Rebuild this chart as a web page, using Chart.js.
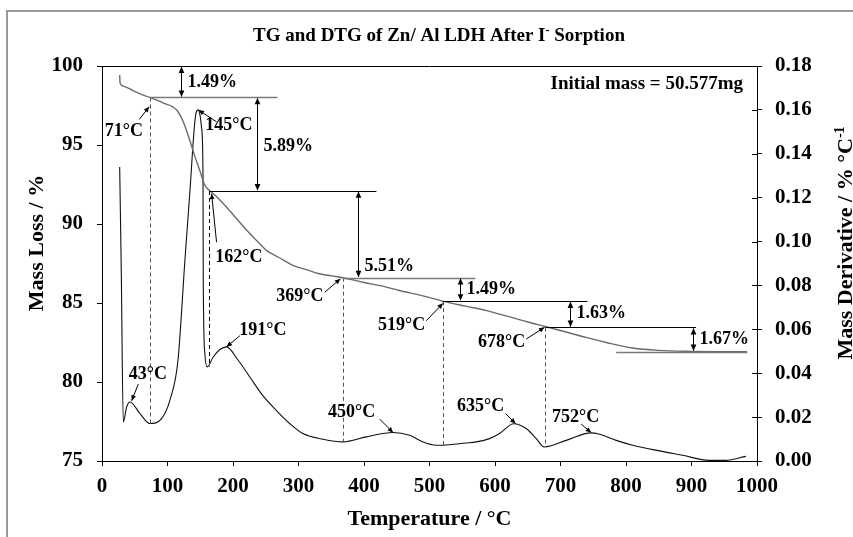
<!DOCTYPE html>
<html>
<head>
<meta charset="utf-8">
<title>TG and DTG of Zn/ Al LDH After I- Sorption</title>
<script src="https://cdn.jsdelivr.net/npm/chart.js@4.4.1/dist/chart.umd.min.js"></script>
<style>
  html, body { margin: 0; padding: 0; background: #fff; }
</style>
</head>
<body>
<canvas id="chart1" width="853" height="537"></canvas>
<script>
// TG curve: temperature (°C) and mass (%)
const tgTemp = [27, 27.5, 32.5, 48, 63, 73, 93, 114, 124, 134, 142, 150, 157, 165, 175, 190, 205, 221, 236, 251, 270, 292, 312, 332, 350, 368, 400, 430, 454, 490, 520, 555, 587, 620, 650, 678, 710, 739, 770, 810, 850, 901, 950, 985];
const tgMass = [99.43, 98.95, 98.73, 98.43, 98.16, 98.01, 97.67, 97.21, 96.47, 95.3, 94.25, 93.3, 92.45, 92.09, 91.72, 91.07, 90.36, 89.6, 88.96, 88.33, 87.88, 87.37, 87.11, 86.85, 86.72, 86.6, 86.3, 86.05, 85.79, 85.45, 85.12, 84.8, 84.52, 84.15, 83.8, 83.5, 83.15, 82.82, 82.5, 82.15, 82.0, 81.94, 81.92, 81.91];

// DTG curve: temperature (°C) and mass derivative (% °C-1)
const dtgTemp = [27, 29.5, 32.5, 37.6, 42.7, 58, 73, 91, 103.7, 116, 126.6, 134, 143.4, 146.9, 150, 152, 154.2, 154.6, 157, 160.6, 169.8, 180, 190, 207.9, 225.7, 245, 266, 286.5, 306.7, 337.5, 368, 403.7, 444, 469.7, 490, 510, 520, 556, 571, 591.7, 607, 628.5, 647.6, 663, 675, 708.7, 746.8, 759.5, 785, 810, 851, 886.5, 927, 952, 983];
const dtgRate = [0.134, 0.085, 0.0178, 0.0246, 0.0269, 0.0216, 0.0171, 0.0193, 0.0277, 0.0459, 0.0915, 0.122, 0.1584, 0.160, 0.157, 0.152, 0.131, 0.082, 0.049, 0.0429, 0.0474, 0.0508, 0.052, 0.0459, 0.0383, 0.030, 0.0231, 0.0171, 0.0125, 0.0099, 0.0087, 0.011, 0.0130, 0.0117, 0.0087, 0.0072, 0.0072, 0.0082, 0.0087, 0.0102, 0.0125, 0.017, 0.0148, 0.0102, 0.0064, 0.0094, 0.0128, 0.0122, 0.0094, 0.0072, 0.0046, 0.0026, 0.0003, 0.0003, 0.0021];

// axis ticks
const tempTicks = [0, 100, 200, 300, 400, 500, 600, 700, 800, 900, 1000];
const massTicks = [75, 80, 85, 90, 95, 100];
const rateTicks = [0, 0.02, 0.04, 0.06, 0.08, 0.10, 0.12, 0.14, 0.16, 0.18];

// step levels on the TG curve (dashed drop lines and horizontal levels)
const dropTemp = [73, 164, 368, 520, 677];
const dropMass = [98.01, 92.09, 86.6, 85.12, 83.45];
const dropRate = [0.0171, 0.0429, 0.0087, 0.0072, 0.0064];

const levelMass = [98.01, 92.09, 86.6, 85.12, 83.45, 81.93];
const levelFrom = [73, 165, 368, 520, 677, 785];
const levelTo = [268, 419, 570, 741, 907, 985];

// mass loss steps
const stepTemp = [120.5, 236, 391, 547, 714, 902];
const stepTop = [100, 98.01, 92.09, 86.6, 85.12, 83.45];
const stepBottom = [98.01, 92.09, 86.6, 85.12, 83.45, 81.93];
const stepText = ["1.49%", "5.89%", "5.51%", "1.49%", "1.63%", "1.67%"];
const stepTextMass = [98.98, 94.9, 87.3, 85.85, 84.33, 82.68];

// temperature call-outs: text centre and arrow (temperature, mass-axis value)
const calloutText = ["71°C", "145°C", "162°C", "43°C", "191°C", "369°C", "450°C", "519°C", "635°C", "678°C", "752°C"];
const calloutAt = [[33.5, 95.88], [193.7, 96.26], [209, 87.88], [70, 80.5], [245.5, 83.28], [302, 85.4], [381, 78.05], [457.5, 83.57], [578, 78.43], [610, 82.52], [723, 77.76]];
const arrowFrom = [[56.9, 96.62], [174.9, 96.47], [174.9, 88.85], [55.4, 79.87], [210.5, 82.93], [340.1, 85.68], [424.0, 77.65], [495.2, 83.88], [616.1, 78.0], [647.7, 82.72], [731.6, 77.33]];
const arrowTo = [[72.0, 97.42], [147.4, 97.21], [167.3, 91.92], [45.3, 78.81], [190.2, 82.23], [364.0, 86.53], [444.3, 76.80], [520.5, 84.98], [631.4, 77.37], [675.6, 83.46], [746.8, 76.80]];

const SERIF = "'Liberation Serif', 'Times New Roman', serif";

function head(c, x1, y1, x2, y2, size) {
  const a = Math.atan2(y2 - y1, x2 - x1);
  c.beginPath();
  c.moveTo(x2, y2);
  c.lineTo(x2 - size * Math.cos(a - 0.42), y2 - size * Math.sin(a - 0.42));
  c.lineTo(x2 - size * Math.cos(a + 0.42), y2 - size * Math.sin(a + 0.42));
  c.closePath();
  c.fill();
}

// text with a superscript part, laid out left to right from x
function supText(c, parts, x, y, size) {
  let w = 0;
  parts.forEach(p => {
    c.font = "bold " + (p.sup ? Math.round(size * 0.62) : size) + "px " + SERIF;
    p.w = c.measureText(p.t).width;
    w += p.w;
  });
  return { w, draw(x0) {
    let cx = x0;
    parts.forEach(p => {
      c.font = "bold " + (p.sup ? Math.round(size * 0.62) : size) + "px " + SERIF;
      c.fillText(p.t, cx, p.sup ? y - size * 0.38 : y);
      cx += p.w;
    });
  } };
}

const decor = {
  id: "decor",
  beforeDraw(chart) {
    const c = chart.ctx;
    c.save();
    c.fillStyle = "#fff";
    c.fillRect(0, 0, chart.width, chart.height);
    c.strokeStyle = "#9a9a9a";
    c.lineWidth = 2;
    c.beginPath();
    c.moveTo(7, chart.height);
    c.lineTo(7, 11);
    c.lineTo(chart.width, 11);
    c.stroke();
    c.restore();
  },
  afterDraw(chart) {
    const c = chart.ctx;
    const a = chart.chartArea;
    const X = v => chart.scales.x.getPixelForValue(v);
    const M = v => chart.scales.y.getPixelForValue(v);
    const R = v => chart.scales.y2.getPixelForValue(v);
    c.save();

    // top frame and inner ticks of the right axis
    c.strokeStyle = "#000";
    c.lineWidth = 1;
    c.beginPath();
    c.moveTo(a.left, a.top + 0.5);
    c.lineTo(a.right, a.top + 0.5);
    rateTicks.forEach(v => {
      const y = Math.round(R(v)) + 0.5;
      c.moveTo(a.right - 5, y);
      c.lineTo(a.right, y);
    });
    c.stroke();

    // dashed drop lines
    c.setLineDash([4, 3]);
    dropTemp.forEach((t, i) => {
      c.strokeStyle = i === 1 ? "#000" : "#555";
      c.beginPath();
      c.moveTo(Math.round(X(t)) + 0.5, M(dropMass[i]));
      c.lineTo(Math.round(X(t)) + 0.5, R(dropRate[i]));
      c.stroke();
    });
    c.setLineDash([]);

    // horizontal levels
    levelMass.forEach((m, i) => {
      c.strokeStyle = (i === 0 || i === 2 || i === 5) ? "#7a7a7a" : "#000";
      c.lineWidth = (i === 0 || i === 2 || i === 5) ? 1.6 : 1;
      const y = Math.round(M(m)) + 0.5;
      c.beginPath();
      c.moveTo(X(levelFrom[i]), y);
      c.lineTo(X(levelTo[i]), y);
      c.stroke();
    });

    // double arrows for the mass loss steps
    c.strokeStyle = "#000";
    c.fillStyle = "#000";
    c.lineWidth = 1;
    c.font = "bold 18px " + SERIF;
    c.textBaseline = "middle";
    c.textAlign = "left";
    stepTemp.forEach((t, i) => {
      const x = Math.round(X(t)) + 0.5;
      const y1 = M(stepTop[i]), y2 = M(stepBottom[i]);
      c.beginPath();
      c.moveTo(x, y1 + 1);
      c.lineTo(x, y2 - 1);
      c.stroke();
      head(c, x, y2, x, y1 + 0.5, 7);
      head(c, x, y1, x, y2 - 0.5, 7);
      c.fillText(stepText[i], x + 6, M(stepTextMass[i]));
    });

    // temperature call-outs
    c.textAlign = "center";
    calloutText.forEach((s, i) => {
      c.fillText(s, X(calloutAt[i][0]), M(calloutAt[i][1]));
      const x1 = X(arrowFrom[i][0]), y1 = M(arrowFrom[i][1]);
      const x2 = X(arrowTo[i][0]), y2 = M(arrowTo[i][1]);
      c.beginPath();
      c.moveTo(x1, y1);
      c.lineTo(x2, y2);
      c.stroke();
      head(c, x1, y1, x2, y2, 6);
    });

    c.textAlign = "right";
    c.font = "bold 19px " + SERIF;
    c.fillText("Initial mass = 50.577mg", a.right - 14, a.top + 18);

    // title
    c.textAlign = "left";
    c.textBaseline = "alphabetic";
    const title = supText(c, [{ t: "TG and DTG of Zn/ Al LDH After I" }, { t: "-", sup: true }, { t: " Sorption" }], 0, 41, 19);
    title.draw(439 - title.w / 2);

    // axis titles
    c.font = "bold 22px " + SERIF;
    c.textAlign = "center";
    c.fillText("Temperature / °C", (a.left + a.right) / 2, 525);

    c.save();
    c.translate(43, 243);
    c.rotate(-Math.PI / 2);
    c.textAlign = "center";
    c.fillText("Mass Loss / %", 0, 0);
    c.restore();

    c.save();
    c.translate(852, 243);
    c.rotate(-Math.PI / 2);
    c.textAlign = "left";
    const rt = supText(c, [{ t: "Mass Derivative / % °C" }, { t: "-1", sup: true }], 0, 0, 22);
    rt.draw(-rt.w / 2);
    c.restore();

    c.restore();
  }
};

const tickFont = { family: SERIF, size: 21, weight: "bold" };

new Chart(document.getElementById("chart1").getContext("2d"), {
  type: "line",
  data: {
    datasets: [
      {
        label: "TG",
        data: tgTemp.map((t, i) => ({ x: t, y: tgMass[i] })),
        yAxisID: "y",
        borderColor: "#6a6a6a",
        borderWidth: 1.4,
        pointRadius: 0,
        cubicInterpolationMode: "monotone",
      },
      {
        label: "DTG",
        data: dtgTemp.map((t, i) => ({ x: t, y: dtgRate[i] })),
        yAxisID: "y2",
        borderColor: "#111",
        borderWidth: 1.1,
        pointRadius: 0,
        cubicInterpolationMode: "monotone",
      },
    ],
  },
  options: {
    responsive: false,
    animation: false,
    layout: { padding: { top: 66, left: 0, right: 0, bottom: 0 } },
    plugins: {
      legend: { display: false },
      title: { display: false },
      tooltip: { enabled: false },
    },
    scales: {
      x: {
        type: "linear",
        min: 0,
        max: 1000,
        afterFit: s => { s.height = 76; },
        afterBuildTicks: s => { s.ticks = tempTicks.map(v => ({ value: v })); },
        ticks: { color: "#000", font: tickFont, padding: 8, maxRotation: 0, callback: v => String(v) },
        grid: { drawOnChartArea: false, color: "#000", tickLength: 5 },
        border: { color: "#000", width: 1 },
      },
      y: {
        position: "left",
        min: 75,
        max: 100,
        afterFit: s => { s.width = 102; },
        afterBuildTicks: s => { s.ticks = massTicks.map(v => ({ value: v })); },
        ticks: { color: "#000", font: tickFont, padding: 14, callback: v => String(v) },
        grid: { drawOnChartArea: false, color: "#000", tickLength: 5 },
        border: { color: "#000", width: 1 },
      },
      y2: {
        position: "right",
        min: 0,
        max: 0.18,
        afterFit: s => { s.width = 96; },
        afterBuildTicks: s => { s.ticks = rateTicks.map(v => ({ value: v })); },
        ticks: { color: "#000", font: tickFont, padding: 13, callback: v => v.toFixed(2) },
        grid: { drawOnChartArea: false, color: "#000", tickLength: 5 },
        border: { color: "#000", width: 1 },
      },
    },
  },
  plugins: [decor],
});
</script>
</body>
</html>
